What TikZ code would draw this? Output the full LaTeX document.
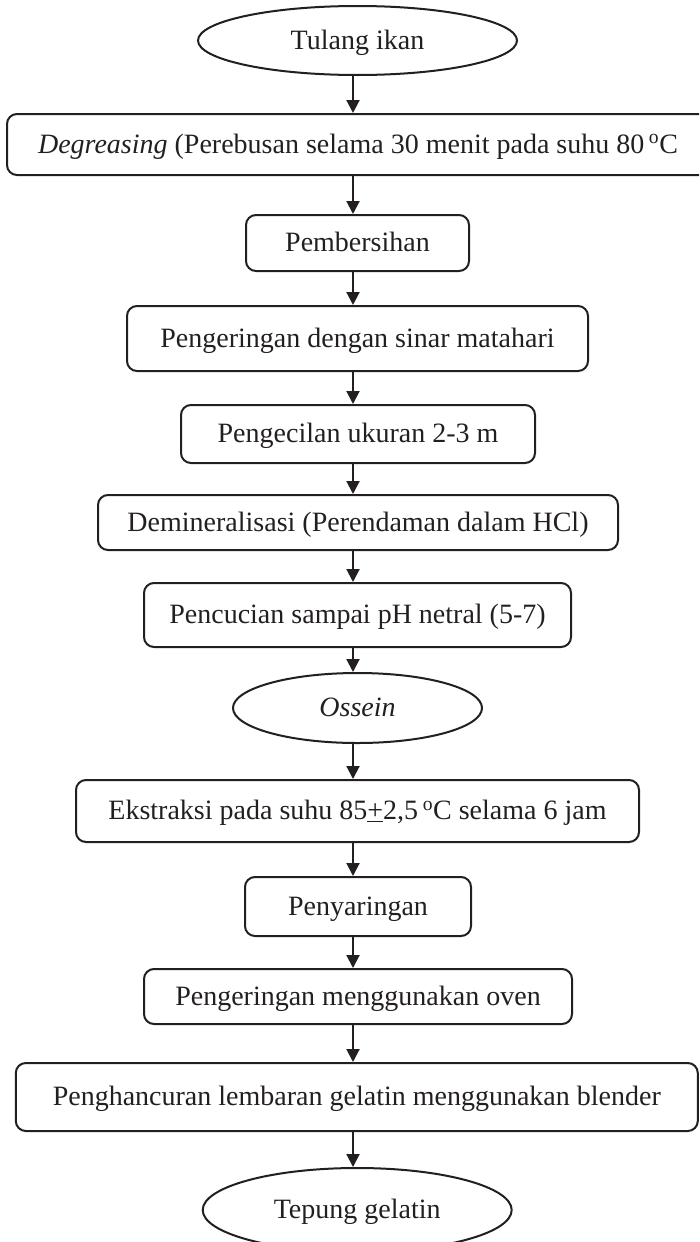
\documentclass[tikz,border=0pt]{standalone}
\usepackage{fontspec}
\setmainfont{Liberation Serif}
\usetikzlibrary{arrows.meta,shapes.geometric}
\definecolor{ink}{RGB}{35,31,32}
\begin{document}
\begin{tikzpicture}[x=1pt,y=-1pt,
  every node/.style={font=\fontsize{28}{32}\selectfont, text=ink,
    text height=21pt, text depth=4pt, inner sep=0pt, align=center},
  stepbox/.style={draw=ink, line width=2pt, rounded corners=10pt},
  endpoint/.style={draw=ink, line width=2pt, ellipse},
  flow/.style={draw=ink, line width=2pt,
    -{Triangle[width=13pt,length=13pt]}}
]
\useasboundingbox (0,0) rectangle (699,1242);
\clip (0,0) rectangle (699,1242);

% process steps
\node[endpoint, minimum width=319pt, minimum height=69pt] (n1) at (357.5,40.5) {Tulang ikan};
\node[stepbox, minimum width=702pt, minimum height=61pt] (n2) at (358,144.5)
  {\textit{Degreasing} (Perebusan selama 30 menit pada suhu 80\,\textsuperscript{o}C};
\node[stepbox, minimum width=223pt, minimum height=56pt] (n3) at (357.5,243) {Pembersihan};
\node[stepbox, minimum width=461pt, minimum height=65pt] (n4) at (357.5,338.5) {Pengeringan dengan sinar matahari};
\node[stepbox, minimum width=354pt, minimum height=58pt] (n5) at (358,434) {Pengecilan ukuran 2-3 m};
\node[stepbox, minimum width=520pt, minimum height=55pt] (n6) at (358,522.5) {Demineralisasi (Perendaman dalam HCl)};
\node[stepbox, minimum width=427pt, minimum height=64pt] (n7) at (357.5,615) {Pencucian sampai pH netral (5-7)};
\node[endpoint, minimum width=249pt, minimum height=70pt] (n8) at (357.5,708) {\textit{Ossein}};
\node[stepbox, minimum width=563pt, minimum height=62pt] (n9) at (357.5,811)
  {Ekstraksi pada suhu 85\underline{+}2,5\,\textsuperscript{o}C selama 6 jam};
\node[stepbox, minimum width=226pt, minimum height=59pt] (n10) at (358,906.5) {Penyaringan};
\node[stepbox, minimum width=428pt, minimum height=55pt] (n11) at (358,996.5) {Pengeringan menggunakan oven};
\node[stepbox, minimum width=682pt, minimum height=68pt] (n12) at (356.8,1097) {Penghancuran lembaran gelatin menggunakan blender};
\node[endpoint, minimum width=309pt, minimum height=84pt] (n13) at (357.2,1210) {Tepung gelatin};

% connectors run on a common vertical line
\coordinate (ax) at (353,0);
\foreach \a/\b in {n1/n2,n2/n3,n3/n4,n4/n5,n5/n6,n6/n7,n7/n8,n8/n9,n9/n10,n10/n11,n11/n12,n12/n13}
  \draw[flow] (\a.south -| ax) -- (\b.north -| ax);
\end{tikzpicture}
\end{document}
